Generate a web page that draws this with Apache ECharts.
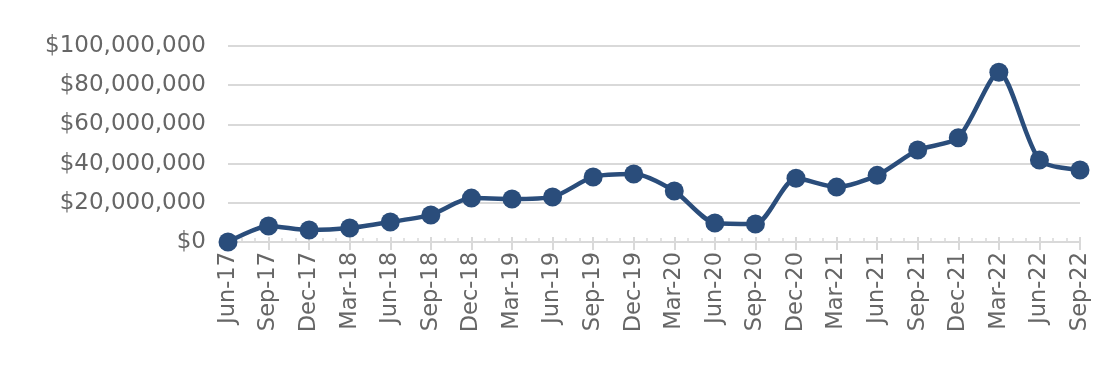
<!DOCTYPE html>
<html><head><meta charset="utf-8">
<script src="https://cdn.jsdelivr.net/npm/echarts@6/dist/echarts.min.js"></script>
<style>html,body{margin:0;padding:0;background:#fff}#c{width:1104px;height:371px}</style>
</head><body><div id="c"></div>
<script>
const categories = ['Jun-17','Sep-17','Dec-17','Mar-18','Jun-18','Sep-18','Dec-18','Mar-19','Jun-19','Sep-19','Dec-19','Mar-20','Jun-20','Sep-20','Dec-20','Mar-21','Jun-21','Sep-21','Dec-21','Mar-22','Jun-22','Sep-22'];
const values = [0, 8200000, 6100000, 7100000, 10200000, 13800000, 22400000, 21900000, 23000000, 33200000, 34700000, 26000000, 9700000, 9200000, 32500000, 28000000, 34000000, 46900000, 53200000, 86600000, 41800000, 36700000];
const yTicks = [0, 20000000, 40000000, 60000000, 80000000, 100000000];

const chart = echarts.init(document.getElementById('c'));
const font = 'DejaVu Sans';
chart.setOption({
  animation: false,
  grid: {left: 228, right: 24, top: 46, bottom: 129},
  xAxis: [{
    type: 'category', data: categories, boundaryGap: false,
    axisLine: {lineStyle: {color: '#d9d9d9', width: 2}},
    axisTick: {show: true, inside: false, length: 8, lineStyle: {color: '#d9d9d9', width: 2}},
    axisLabel: {rotate: 90, color: '#666666', fontFamily: font, fontWeight: 'normal', fontSize: 22.5, margin: 10, interval: 0},
    splitLine: {show: false}
  }, {
    type: 'value', min: 0, max: (categories.length - 1) * 3, interval: 3, position: 'bottom',
    axisLine: {show: false},
    axisTick: {show: true, inside: true, length: 5, lineStyle: {color: '#d9d9d9', width: 2}},
    minorTick: {show: true, splitNumber: 3, length: 4, lineStyle: {color: '#d9d9d9', width: 1.5}},
    axisLabel: {show: false}, splitLine: {show: false}
  }],
  yAxis: {
    type: 'value', min: 0, max: 100000000, interval: 20000000,
    axisLine: {show: false}, axisTick: {show: false},
    splitLine: {lineStyle: {color: '#d9d9d9', width: 2}},
    axisLabel: {color: '#666666', fontFamily: font, fontWeight: 'normal', fontSize: 23, margin: 22,
      formatter: v => '$' + v.toLocaleString('en-US')}
  },
  series: [{
    type: 'line', data: values, xAxisIndex: 0, smooth: 0.25,
    symbol: 'circle', symbolSize: 19,
    lineStyle: {color: '#2a4d7b', width: 4.5},
    itemStyle: {color: '#2a4d7b'}
  }]
});
</script></body></html>
